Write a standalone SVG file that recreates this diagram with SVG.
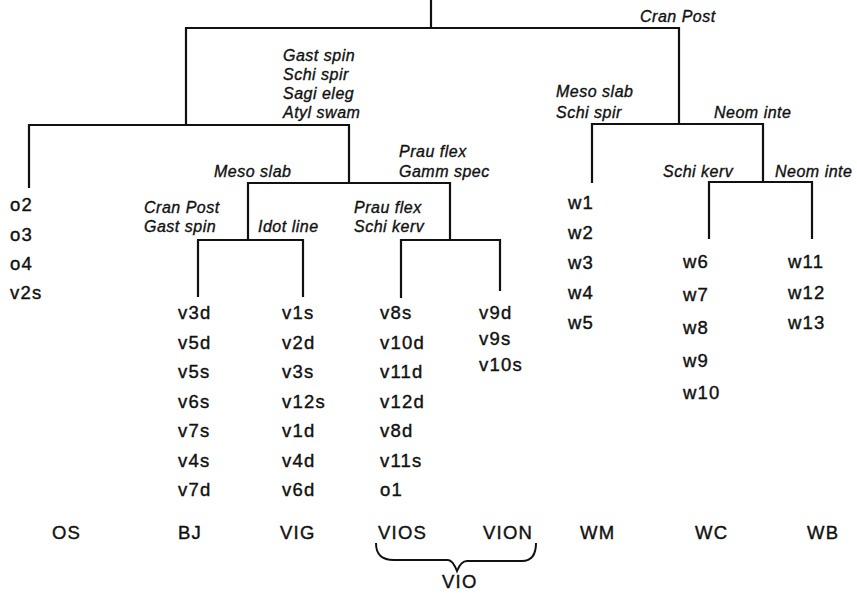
<svg xmlns="http://www.w3.org/2000/svg" width="857" height="593" viewBox="0 0 857 593">
<style>
  .ln { stroke: #111; stroke-width: 2.2; fill: none; stroke-linecap: square; }
  .sp { font-family: "Liberation Sans", Arial, sans-serif; font-style: italic; font-size: 16px; letter-spacing: 0.5px; fill: #111; stroke: #111; stroke-width: 0.35px; }
  .lf { font-family: "Liberation Sans", Arial, sans-serif; font-size: 18.5px; letter-spacing: 1.2px; fill: #111; stroke: #111; stroke-width: 0.4px; }
  .br { stroke: #111; stroke-width: 2; fill: none; }
</style>
<rect width="857" height="593" fill="#fff"/>
<g id="connectors">
  <path class="ln" d="M431,0 V28 M186,28 H679 M186,28 V125 M679,28 V124"/>
  <path class="ln" d="M29,125 H349 M29,125 V187 M349,125 V183"/>
  <path class="ln" d="M248,183 H450 M248,183 V240 M450,183 V240"/>
  <path class="ln" d="M198,240 H303 M198,240 V296 M303,240 V296"/>
  <path class="ln" d="M401,240 H500 M401,240 V297 M500,240 V290"/>
  <path class="ln" d="M592,124 H763 M592,124 V182 M763,124 V182"/>
  <path class="ln" d="M709,182 H812 M709,182 V238 M812,182 V238"/>
</g>
<g id="split-root"><text class="sp" x="640" y="22">Cran Post</text></g>
<g id="split-left">
  <text class="sp" x="283" y="61">Gast spin</text>
  <text class="sp" x="283" y="80">Schi spir</text>
  <text class="sp" x="283" y="99">Sagi eleg</text>
  <text class="sp" x="283" y="118">Atyl swam</text>
</g>
<g id="split-v1">
  <text class="sp" x="214" y="177">Meso slab</text>
  <text class="sp" x="399" y="157">Prau flex</text>
  <text class="sp" x="399" y="177">Gamm spec</text>
</g>
<g id="split-bj-vig">
  <text class="sp" x="144" y="213">Cran Post</text>
  <text class="sp" x="144" y="232">Gast spin</text>
  <text class="sp" x="258" y="232">Idot line</text>
</g>
<g id="split-vio">
  <text class="sp" x="354" y="213">Prau flex</text>
  <text class="sp" x="354" y="232">Schi kerv</text>
</g>
<g id="split-w">
  <text class="sp" x="556" y="97">Meso slab</text>
  <text class="sp" x="556" y="118">Schi spir</text>
  <text class="sp" x="714" y="118">Neom inte</text>
</g>
<g id="split-wc-wb">
  <text class="sp" x="663" y="177">Schi kerv</text>
  <text class="sp" x="775" y="177">Neom inte</text>
</g>
<g id="leaf-os" class="lf">
  <text x="10" y="211">o2</text><text x="10" y="241">o3</text><text x="10" y="270">o4</text><text x="10" y="299">v2s</text>
  <text x="52" y="539">OS</text>
</g>
<g id="leaf-bj" class="lf">
  <text x="178" y="319">v3d</text><text x="178" y="348.5">v5d</text><text x="178" y="378">v5s</text><text x="178" y="407.5">v6s</text><text x="178" y="437">v7s</text><text x="178" y="466.5">v4s</text><text x="178" y="496">v7d</text>
  <text x="178" y="539">BJ</text>
</g>
<g id="leaf-vig" class="lf">
  <text x="282" y="319">v1s</text><text x="282" y="348.5">v2d</text><text x="282" y="378">v3s</text><text x="282" y="407.5">v12s</text><text x="282" y="437">v1d</text><text x="282" y="466.5">v4d</text><text x="282" y="496">v6d</text>
  <text x="280" y="539">VIG</text>
</g>
<g id="leaf-vios" class="lf">
  <text x="380" y="319">v8s</text><text x="380" y="348.5">v10d</text><text x="380" y="378">v11d</text><text x="380" y="407.5">v12d</text><text x="380" y="437">v8d</text><text x="380" y="466.5">v11s</text><text x="380" y="496">o1</text>
  <text x="378" y="539">VIOS</text>
</g>
<g id="leaf-vion" class="lf">
  <text x="479" y="319">v9d</text><text x="479" y="345">v9s</text><text x="479" y="371">v10s</text>
  <text x="483" y="539">VION</text>
</g>
<g id="leaf-wm" class="lf">
  <text x="568" y="209">w1</text><text x="568" y="239">w2</text><text x="568" y="269">w3</text><text x="568" y="299">w4</text><text x="568" y="329">w5</text>
  <text x="580" y="539">WM</text>
</g>
<g id="leaf-wc" class="lf">
  <text x="683" y="268">w6</text><text x="683" y="301">w7</text><text x="683" y="334">w8</text><text x="683" y="367">w9</text><text x="683" y="399">w10</text>
  <text x="695" y="539">WC</text>
</g>
<g id="leaf-wb" class="lf">
  <text x="788" y="268">w11</text><text x="788" y="299">w12</text><text x="788" y="329">w13</text>
  <text x="807" y="539">WB</text>
</g>
<g id="group-vio">
  <path class="br" d="M376,543 C376,553 380,560 394,560 L448,560 C452,560 455,566 457,571 C459,566 462,561 467,561 L522,561 C532,561 536,554 536,543"/>
  <text class="lf" x="442" y="588">VIO</text>
</g>
</svg>
